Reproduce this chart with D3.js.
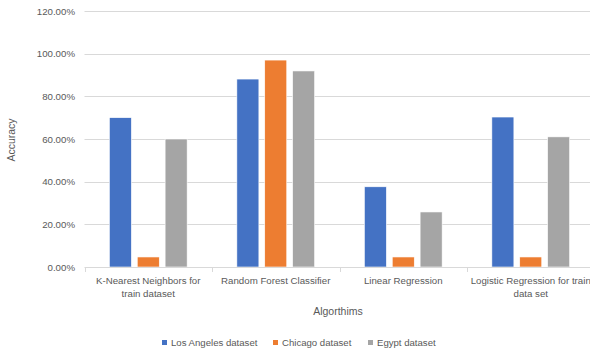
<!DOCTYPE html>
<html>
<head>
<meta charset="utf-8">
<script src="https://cdn.jsdelivr.net/npm/d3@7/dist/d3.min.js"></script>
<style>
  html, body { margin: 0; padding: 0; background: #fff; }
  svg { display: block; font-family: "Liberation Sans", Arial, sans-serif; }
</style>
</head>
<body>
<svg id="chart" width="590" height="352"></svg>
<script>
// Accuracy of each algorithm on each dataset (percent)
const categories = [
  ["K-Nearest Neighbors for", "train dataset"],
  ["Random Forest Classifier"],
  ["Linear Regression"],
  ["Logistic Regression for train", "data set"]
];
const seriesNames = ["Los Angeles dataset", "Chicago dataset", "Egypt dataset"];
const losAngeles = [70.0, 88.1, 37.6, 70.3];
const chicago = [4.7, 97.0, 4.7, 4.7];
const egypt = [60.0, 91.9, 25.8, 61.0];
const yTicks = [0, 20, 40, 60, 80, 100, 120];
const colors = ["#4472C4", "#ED7D31", "#A5A5A5"];

const seriesValues = [losAngeles, chicago, egypt];
const catKeys = categories.map((c, i) => i);

const svg = d3.select("#chart");
const plotLeft = 84.5, plotRight = 594.5, plotTop = 11, plotBottom = 267;
const textColor = "#595959";

const x0 = d3.scaleBand().domain(catKeys).range([plotLeft, plotRight])
  .paddingInner(0.39).paddingOuter(0.195);
const x1 = d3.scaleBand().domain(d3.range(seriesNames.length))
  .range([0, x0.bandwidth()]).paddingInner(0.21);
const y = d3.scaleLinear().domain([0, 120]).range([plotBottom, plotTop]);

// horizontal gridlines
svg.append("g").selectAll("line").data(yTicks.filter(t => t > 0)).join("line")
  .attr("x1", plotLeft).attr("x2", plotRight)
  .attr("y1", d => Math.round(y(d)) + 0.5).attr("y2", d => Math.round(y(d)) + 0.5)
  .attr("stroke", "#d9d9d9").attr("stroke-width", 1);

// y axis labels
const yAxis = d3.axisLeft(y).tickValues(yTicks).tickSize(0).tickPadding(0)
  .tickFormat(d => d.toFixed(2) + "%");
const yg = svg.append("g").attr("transform", `translate(75,0)`).call(yAxis);
yg.select(".domain").remove();
yg.selectAll("text").attr("fill", textColor).attr("font-size", 9.7)
  .attr("font-family", "Liberation Sans, Arial, sans-serif");

// bars
const groups = svg.append("g").selectAll("g").data(catKeys).join("g")
  .attr("transform", d => `translate(${x0(d)},0)`);
groups.selectAll("rect")
  .data(ci => seriesValues.map((vals, si) => ({ si, v: vals[ci] })))
  .join("rect")
  .attr("x", d => x1(d.si))
  .attr("width", x1.bandwidth())
  .attr("y", d => y(d.v))
  .attr("height", d => y(0) - y(d.v))
  .attr("fill", d => colors[d.si])
  .attr("stroke", "#fff").attr("stroke-width", 0.6);

// category axis
const xa = svg.append("g");
xa.append("line").attr("x1", plotLeft).attr("x2", plotRight)
  .attr("y1", plotBottom + 0.5).attr("y2", plotBottom + 0.5)
  .attr("stroke", "#d9d9d9").attr("stroke-width", 1);
const boundaries = catKeys.map(k => x0(k) - x0.step() * x0.paddingInner() / 2);
xa.selectAll("line.tick").data(boundaries).join("line").attr("class", "tick")
  .attr("x1", d => Math.round(d) + 0.5).attr("x2", d => Math.round(d) + 0.5)
  .attr("y1", plotBottom).attr("y2", plotBottom + 5)
  .attr("stroke", "#d9d9d9");

xa.selectAll("text.cat").data(catKeys).join("text").attr("class", "cat")
  .attr("x", d => x0(d) + x0.bandwidth() / 2)
  .attr("y", 284)
  .attr("text-anchor", "middle")
  .attr("fill", textColor).attr("font-size", 9.7)
  .each(function (d) {
    const t = d3.select(this);
    categories[d].forEach((line, i) => {
      t.append("tspan").attr("x", x0(d) + x0.bandwidth() / 2)
        .attr("dy", i === 0 ? 0 : 13).text(line);
    });
  });

// axis titles
svg.append("text").attr("x", 338).attr("y", 315)
  .attr("text-anchor", "middle").attr("fill", textColor).attr("font-size", 10.5)
  .text("Algorthims");
svg.append("text").attr("transform", "translate(15,140) rotate(-90)")
  .attr("text-anchor", "middle").attr("fill", textColor).attr("font-size", 10.5)
  .text("Accuracy");

// legend
const legendX = [162, 273, 368];
const lg = svg.append("g").selectAll("g").data(seriesNames).join("g")
  .attr("transform", (d, i) => `translate(${legendX[i]},340)`);
lg.append("rect").attr("width", 5).attr("height", 5).attr("y", 0)
  .attr("fill", (d, i) => colors[i]);
lg.append("text").attr("x", 9).attr("y", 6).attr("fill", textColor)
  .attr("font-size", 9.6).text(d => d);
</script>
</body>
</html>
